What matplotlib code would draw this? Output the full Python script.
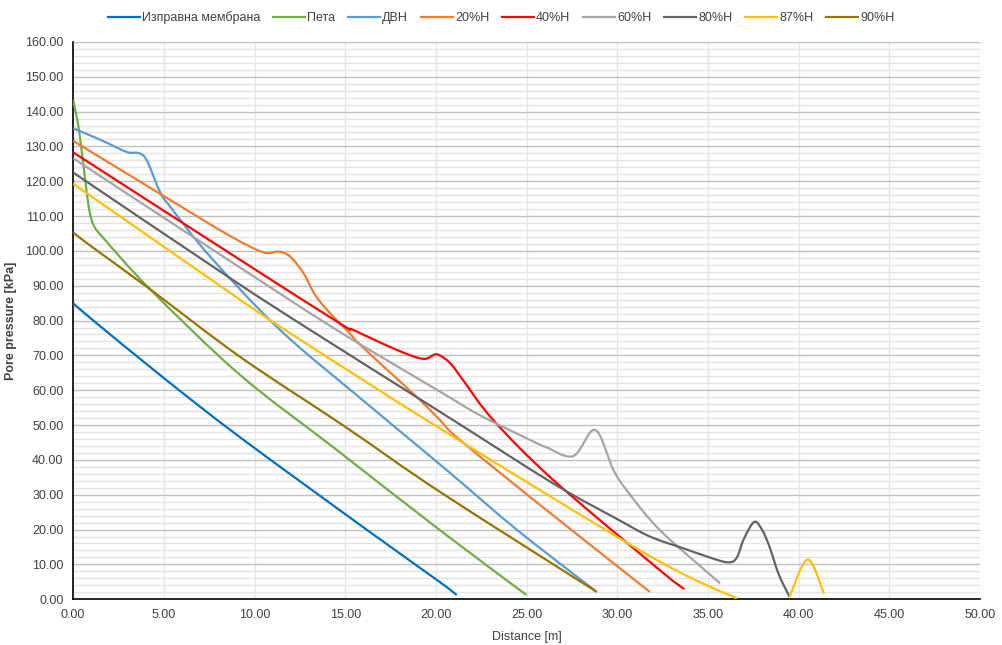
import numpy as np
import matplotlib.pyplot as plt
from matplotlib.path import Path
from matplotlib.patches import PathPatch
from matplotlib.lines import Line2D

plt.rcParams['font.family'] = ['Liberation Sans Narrow', 'Liberation Sans', 'DejaVu Sans']

names = ["Изправна мембрана", "Пета", "ДВН", "20%H", "40%H", "60%H", "80%H", "87%H", "90%H"]
colors = ["#0070C0", "#70AD47", "#5B9BD5", "#ED7D31", "#FF0000", "#A5A5A5", "#636363", "#FFC000", "#997300"]

x_izpr = [0, 1, 5, 9.2, 16.2, 20.2, 21.15]
y_izpr = [85, 80.5, 63.5, 46.5, 19.9, 5.0, 1.2]

x_peta = [0, 0.33, 0.66, 0.9, 1.15, 1.7, 4.24, 9.2, 14.5, 20.23, 25.0]
y_peta = [143.4, 134.5, 120.5, 111.5, 107.2, 103.5, 89.0, 64.4, 43.0, 19.8, 1.2]

x_dvn = [0, 1.5, 2.96, 3.6, 4.06, 4.8, 5.35, 7.55, 11.41, 16.0, 20.5, 24.5, 28.87]
y_dvn = [135.2, 131.9, 128.4, 128.1, 126.0, 116.8, 112.7, 98.4, 77.3, 57.0, 37.5, 19.8, 2.1]

x_20 = [0, 4.98, 8.65, 10.49, 11.32, 11.96, 12.7, 13.4, 14.35, 15.08, 16.0, 18.94, 20.23, 21.33, 26.0, 31.8]
y_20 = [131.6, 115.8, 104.3, 99.6, 99.8, 98.4, 93.6, 86.9, 81.1, 77.3, 72.2, 58.1, 51.4, 45.7, 26.0, 2.1]

x_40 = [0, 8.65, 14.7, 15.45, 17.84, 19.3, 20.05, 20.8, 21.5, 23.17, 26.48, 32.36, 33.7]
y_40 = [128.3, 99.3, 79.2, 77.3, 71.6, 69.0, 70.3, 67.7, 62.9, 51.4, 34.2, 8.3, 2.9]

x_60 = [0, 8.65, 14.53, 20.23, 22.4, 25.0, 26.1, 27.58, 28.78, 29.79, 30.52, 32.36, 35.67]
y_60 = [126.6, 97.1, 77.3, 59.6, 52.9, 46.2, 43.6, 41.1, 48.6, 37.1, 31.3, 19.8, 4.6]

x_80 = [0, 8.65, 13.07, 20.23, 26.48, 30.0, 31.8, 33.65, 35.5, 36.2, 36.6, 37.0, 37.56, 38.0, 38.4, 38.9, 39.5]
y_80 = [122.5, 92.2, 77.3, 53.8, 33.2, 23.0, 18.0, 14.6, 11.3, 10.6, 12.0, 17.5, 22.2, 19.8, 15.0, 7.2, 0.7]

x_87 = [0, 8.65, 11.69, 20.23, 31.8, 36.6, np.nan, 39.5, 40.5, 41.4]
y_87 = [119.3, 88.0, 77.3, 49.0, 12.4, 0.2, np.nan, 0.7, 11.4, 1.6]

x_90 = [0, 1, 4.24, 9.2, 15.0, 20.23, 28.87]
y_90 = [105.3, 101.3, 89.0, 69.6, 49.5, 30.8, 2.1]

series_x = [x_izpr, x_peta, x_dvn, x_20, x_40, x_60, x_80, x_87, x_90]
series_y = [y_izpr, y_peta, y_dvn, y_20, y_40, y_60, y_80, y_87, y_90]


def smooth_path(xs, ys):
    # excel style smoothed line: cubic bezier through every point
    pts = np.column_stack([xs, ys]).astype(float)
    gaps = list(np.where(np.isnan(pts[:, 0]))[0]) + [len(pts)]
    verts, codes = [], []
    start = 0
    for stop in gaps:
        p = pts[start:stop]
        start = stop + 1
        if len(p) < 2:
            continue
        pad = np.vstack([p[0], p, p[-1]])
        verts.append(p[0])
        codes.append(Path.MOVETO)
        for i in range(len(p) - 1):
            p0, p1, p2, p3 = pad[i], pad[i + 1], pad[i + 2], pad[i + 3]
            verts += [p1 + (p2 - p0) / 6, p2 - (p3 - p1) / 6, p2]
            codes += [Path.CURVE4] * 3
    return Path(verts, codes)


fig, ax = plt.subplots(figsize=(10.02, 6.45), dpi=100)
fig.subplots_adjust(left=0.073, right=0.978, bottom=0.071, top=0.935)

for xs, ys, c in zip(series_x, series_y, colors):
    ax.add_patch(PathPatch(smooth_path(xs, ys), fill=False, edgecolor=c, lw=1.6, zorder=3))

ax.set_xlim(0, 50)
ax.set_ylim(0, 160)
ax.set_xticks(np.arange(0, 51, 5))
ax.set_yticks(np.arange(0, 161, 10))
ax.set_yticks(np.arange(0, 161, 2), minor=True)
ax.xaxis.set_major_formatter(lambda v, p: f"{v:.2f}")
ax.yaxis.set_major_formatter(lambda v, p: f"{v:.2f}")
ax.tick_params(which='both', length=0, labelsize=9, colors='#404040')
ax.tick_params(axis='x', pad=7)
ax.tick_params(axis='y', pad=7)

ax.grid(axis='y', which='major', color='#BFBFBF', lw=1.0)
ax.grid(axis='y', which='minor', color='#E3E3E3', lw=1.0)
ax.grid(axis='x', which='major', color='#E6E6E6', lw=1.0)
ax.set_axisbelow(True)
for s in ['top', 'right']:
    ax.spines[s].set_visible(False)
for s in ['left', 'bottom']:
    ax.spines[s].set_color('black')
    ax.spines[s].set_linewidth(1.2)

ax.set_xlabel("Distance [m]", fontsize=9, color='#404040')
ax.set_ylabel("Pore pressure [kPa]", fontsize=9, color='#404040', fontweight='bold')
ax.xaxis.set_label_coords(0.5, -0.057)
ax.yaxis.set_label_coords(-0.062, 0.5)

handles = [Line2D([], [], color=c, lw=1.6) for c in colors]
fig.legend(handles, names, loc='upper center', bbox_to_anchor=(0.5, 1.0), ncol=9,
           frameon=False, fontsize=9, handlelength=2.6, handletextpad=0.15,
           columnspacing=1.0, labelcolor='#404040')

fig.savefig("out.png", dpi=100)
